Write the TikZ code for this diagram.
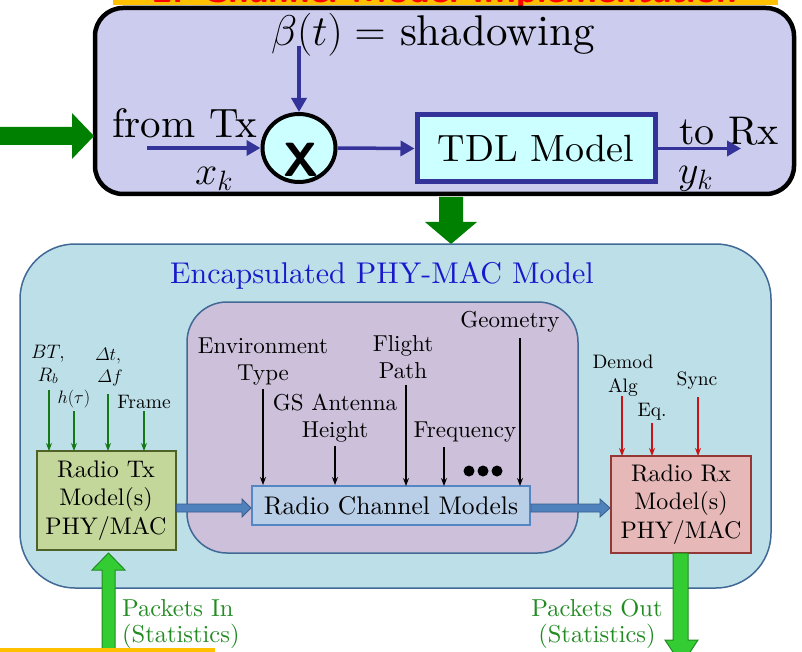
\RequirePackage{fix-cm}
\documentclass[tikz,border=0pt]{standalone}
\usepackage{amsmath}
\usepackage{fontspec}
\setmainfont{lmroman10-regular.otf}[ItalicFont=lmroman10-italic.otf,BoldFont=lmroman10-bold.otf]
\usetikzlibrary{arrows.meta,calc,shapes.geometric}
\definecolor{topfill}{RGB}{204,204,238}
\definecolor{cyanfill}{RGB}{204,255,255}
\definecolor{navy}{RGB}{51,51,153}
\definecolor{dgreen}{RGB}{0,128,0}
\definecolor{bigfill}{RGB}{189,223,232}
\definecolor{bigborder}{RGB}{65,105,150}
\definecolor{purplefill}{RGB}{204,192,218}
\definecolor{rcmfill}{RGB}{185,207,232}
\definecolor{rcmborder}{RGB}{84,134,196}
\definecolor{txfill}{RGB}{196,215,155}
\definecolor{txborder}{RGB}{79,98,40}
\definecolor{rxfill}{RGB}{230,185,184}
\definecolor{rxborder}{RGB}{149,55,53}
\definecolor{barrowfill}{RGB}{79,129,189}
\definecolor{barrowline}{RGB}{56,93,138}
\definecolor{garrowfill}{RGB}{51,204,51}
\definecolor{garrowline}{RGB}{34,140,34}
\definecolor{lgreen}{RGB}{20,120,20}
\definecolor{lred}{RGB}{200,20,20}
\definecolor{ttlblue}{RGB}{25,25,204}
\definecolor{gtext}{RGB}{34,139,34}
\definecolor{orangebar}{RGB}{255,192,0}
\begin{document}
\begin{tikzpicture}[x=1pt,y=-1pt,
  navyarrow/.style={draw=navy,line width=3.5pt,-{Triangle[length=14pt,width=15pt]}},
  bigtxt/.style={font=\fontsize{40}{46}\selectfont},
  lbl/.style={font=\fontsize{23}{27}\selectfont,align=center,inner sep=0pt},
  smalllbl/.style={font=\fontsize{19.5}{24}\selectfont,align=center,inner sep=0pt},
  darr/.style={draw=black,line width=1.2pt,-{Stealth[length=8pt,width=6pt]}},
  garr/.style={draw=lgreen,line width=1.2pt,-{Stealth[length=8pt,width=6pt]}},
  rarr/.style={draw=lred,line width=1.2pt,-{Stealth[length=8pt,width=6pt]}},
  modelbox/.style={line width=2pt,align=center,inner sep=0pt,font=\fontsize{24}{28.7}\selectfont},
  bluearrow/.style={fill=barrowfill,draw=barrowline,line width=0.8pt},
  greenarrow/.style={fill=garrowfill,draw=garrowline,line width=1pt},
  dot/.style={fill=black},
]
\useasboundingbox (0,0) rectangle (802,652);
\begin{scope}
\clip (0,0) rectangle (802,652);
% ---------- top bar (cut off)
\fill[orangebar] (113,0) rectangle (778,5);
\node[anchor=base,text=red,inner sep=0pt,font=\sffamily\bfseries\fontsize{37}{40}\selectfont] (bartitle) at (445,3) {2. Channel Model Implementation};
% ---------- top channel box
\node[draw=black,line width=4.5pt,fill=topfill,rounded corners=28pt,minimum width=699pt,minimum height=186pt] (chan) at (444.5,101) {};
\node[anchor=base,inner sep=0pt,font=\fontsize{43}{48}\selectfont] (beta) at (433,46) {$\beta(t) =$ shadowing};
\node[ellipse,draw=black,line width=4pt,fill=cyanfill,minimum width=73pt,minimum height=68pt,inner sep=0pt] (mult) at (299,148) {};
\node[inner sep=0pt,font=\sffamily\bfseries\fontsize{48}{48}\selectfont] (times) at (301,160) {X};
\node[draw=navy,line width=5pt,fill=cyanfill,minimum width=238pt,minimum height=67pt,inner sep=0pt,font=\fontsize{38}{44}\selectfont] (tdl) at (536,148.5) {TDL Model};
\node[anchor=base west,inner sep=0pt,font=\fontsize{41}{46}\selectfont] (fromtx) at (112,138) {from Tx};
\node[anchor=base west,inner sep=0pt,bigtxt] (torx) at (679,145) {to Rx};
\node[anchor=base west,inner sep=0pt,bigtxt] (xk) at (195,185) {$x_k$};
\node[anchor=base west,inner sep=0pt,bigtxt] (yk) at (678,184) {$y_k$};
\coordinate (xin) at (147,148);
\coordinate (yout) at (741,148.5);
\draw[navyarrow] (mult.north |- beta.base) -- (mult.north);
\draw[navyarrow] (xin) -- (mult.west);
\draw[navyarrow] (mult.east) -- (tdl.west);
\draw[navyarrow] (tdl.east) -- (yout);
% green block arrows (top)
\fill[dgreen] (0,127) -- (72,127) -- (72,113) -- (94,136) -- (72,159) -- (72,145) -- (0,145) -- cycle;
\fill[dgreen] (439,197) -- (463,197) -- (463,222) -- (477,222) -- (451,244) -- (425,222) -- (439,222) -- cycle;
% ---------- encapsulated model
\node[draw=bigborder,line width=1.5pt,fill=bigfill,rounded corners=55pt,minimum width=751pt,minimum height=344pt] (encap) at (395.5,416) {};
\node[anchor=base,inner sep=0pt,text=ttlblue,font=\fontsize{30}{34}\selectfont] (encttl) at (382,283) {Encapsulated PHY-MAC Model};
\node[draw=bigborder,line width=1.5pt,fill=purplefill,rounded corners=40pt,minimum width=391pt,minimum height=251pt] (chmodels) at (382.5,427.5) {};
\node[draw=rcmborder,fill=rcmfill,line width=2pt,minimum width=278pt,minimum height=39pt,inner sep=0pt,font=\fontsize{25.5}{30}\selectfont] (rcm) at (391,505.5) {Radio Channel Models};
% labels in channel models (base = last line)
\node[lbl,anchor=base] (env) at (263,380) {Environment\\Type};
\node[lbl,anchor=base] (gs) at (335,437) {GS Antenna\\Height};
\node[lbl,anchor=base] (flight) at (403,378) {Flight\\Path};
\node[lbl,anchor=base] (freq) at (465,437) {Frequency};
\node[lbl,anchor=base] (geo) at (510,327) {Geometry};
\fill[dot] (469,471) circle (5.5);
\fill[dot] (483,471) circle (5.5);
\fill[dot] (497,471) circle (5.5);
\draw[darr] (env.south) ++(0,4) -- (env.south |- rcm.north);
\draw[darr] (gs.south) ++(0,4) -- (gs.south |- rcm.north);
\draw[darr] (406,385) -- (406,486);
\draw[darr] (444,447) -- (444,486);
\draw[darr] (520,338) -- (520,486);
% Tx model
\node[modelbox,draw=txborder,fill=txfill,minimum width=139pt,minimum height=99pt] (tx) at (106,500.5) {Radio Tx\\Model(s)\\PHY/MAC};
\node[smalllbl,anchor=base] (bt) at (48,358) {$BT,$};
\node[smalllbl,anchor=base] (rb) at (48,381) {$R_b$};
\node[smalllbl,anchor=base,font=\fontsize{18}{22}\selectfont] (htau) at (74,403) {$h(\tau)$};
\node[smalllbl,anchor=base,font=\fontsize{18}{22}\selectfont] (dt) at (108,360) {$\varDelta t,$};
\node[smalllbl,anchor=base,font=\fontsize{18}{22}\selectfont] (df) at (110,382) {$\varDelta f$};
\node[smalllbl,anchor=base] (frame) at (144,408) {Frame};
\draw[garr] (49,390) -- (49,451);
\draw[garr] (74,411) -- (74,451);
\draw[garr] (108,394) -- (108,451);
\draw[garr] (144,411) -- (144,451);
% Rx model
\node[modelbox,draw=rxborder,fill=rxfill,minimum width=140pt,minimum height=97pt] (rx) at (681,504.5) {Radio Rx\\Model(s)\\PHY/MAC};
\node[smalllbl,anchor=base] (demod) at (623,392) {Demod\\Alg};
\node[smalllbl,anchor=base] (eq) at (652,416) {Eq.};
\node[smalllbl,anchor=base] (sync) at (697,385) {Sync};
\draw[rarr] (622,396) -- (622,456);
\draw[rarr] (652,423) -- (652,456);
\draw[rarr] (698,397) -- (698,456);
% blue block arrows
\draw[bluearrow] (tx.east |- 0,504) -- ([xshift=-9pt]rcm.west |- 0,504) -- ([xshift=-9pt]rcm.west |- 0,499) -- (rcm.west |- 0,508) -- ([xshift=-9pt]rcm.west |- 0,517) -- ([xshift=-9pt]rcm.west |- 0,512) -- (tx.east |- 0,512) -- cycle;
\draw[bluearrow] (rcm.east |- 0,504) -- ([xshift=-10pt]rx.west |- 0,504) -- ([xshift=-10pt]rx.west |- 0,499) -- (rx.west |- 0,508) -- ([xshift=-10pt]rx.west |- 0,517) -- ([xshift=-10pt]rx.west |- 0,512) -- (rcm.east |- 0,512) -- cycle;
% packets arrows
\draw[greenarrow] (102,660) -- (102,570) -- (92,570) -- (108.5,553) -- (125,570) -- (115,570) -- (115,660) -- cycle;
\draw[greenarrow] (673,553) -- (673,640) -- (665,640) -- (681.5,665) -- (698,640) -- (688,640) -- (688,553) -- cycle;
\node[anchor=base west,inner sep=0pt,align=left,text=gtext,font=\fontsize{24.5}{26}\selectfont] (pin) at (122,642) {Packets In\\(Statistics)};
\node[anchor=base,inner sep=0pt,align=center,text=gtext,font=\fontsize{24.5}{26}\selectfont] (pout) at (597,642) {Packets Out\\(Statistics)};
\fill[orangebar] (0,648) rectangle (215,652);
\end{scope}
\end{tikzpicture}
\end{document}
